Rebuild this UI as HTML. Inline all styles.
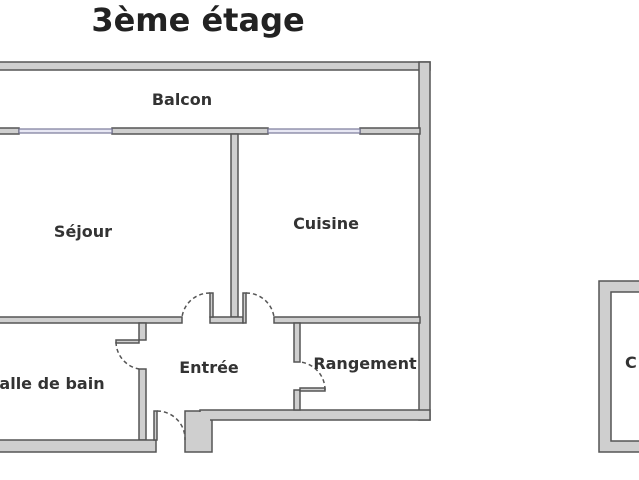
<!DOCTYPE html>
<html><head><style>
body{margin:0;background:#fff;}
svg{display:block;}
text{font-family:"DejaVu Sans","Liberation Sans",sans-serif;fill:#333;}
</style></head><body>
<svg width="639" height="480" viewBox="0 0 639 480" xmlns="http://www.w3.org/2000/svg">
<text x="198" y="31" font-size="32" font-weight="bold" text-anchor="middle" style="fill:#222">3ème étage</text>
<g fill="#cfcfcf" stroke="#555" stroke-width="1.5">
<rect x="-5" y="62" width="435" height="8"/>
<rect x="419" y="62" width="11" height="358"/>
<rect x="-5" y="128" width="24" height="6"/>
<rect x="112" y="128" width="156" height="6"/>
<rect x="360" y="128" width="60" height="6"/>
<rect x="231" y="134" width="7" height="183"/>
<rect x="-5" y="317" width="187" height="6"/>
<rect x="210" y="317" width="33" height="6"/>
<rect x="274" y="317" width="146" height="6"/>
<rect x="210" y="293" width="3" height="24"/>
<rect x="243" y="293" width="3" height="30"/>
<rect x="139" y="323" width="7" height="17"/>
<rect x="139" y="369" width="7" height="71"/>
<rect x="116" y="340" width="23" height="3"/>
<rect x="-5" y="440" width="161" height="12"/>
<rect x="154" y="411" width="3" height="29"/>
<rect x="185" y="411" width="27" height="41"/>
<rect x="200" y="410" width="230" height="10"/>
<rect x="294" y="323" width="6" height="39"/>
<rect x="294" y="390" width="6" height="20"/>
<rect x="300" y="388" width="25" height="3"/>
<rect x="599" y="281" width="50" height="171"/>
</g>
<rect x="611" y="292" width="40" height="149" fill="#fff" stroke="#555" stroke-width="1.5"/>
<rect x="186" y="412" width="24" height="38" fill="#cfcfcf"/>
<g stroke="#7a7a9a" stroke-width="1.2" fill="#e8e8f4">
<rect x="19" y="129" width="93" height="4"/>
<rect x="268" y="129" width="92" height="4"/>
</g>
<g fill="none" stroke="#555" stroke-width="1.5" stroke-dasharray="4 3">
<path d="M210 293 A28 28 0 0 0 182 317"/>
<path d="M246 293 A28 28 0 0 1 274 317"/>
<path d="M116 342 A28 28 0 0 0 139 369"/>
<path d="M157 411 A28 28 0 0 1 185 440"/>
<path d="M325 390 A28 28 0 0 0 300 362"/>
</g>
<g font-size="16" font-weight="bold">
<text x="182" y="105" text-anchor="middle">Balcon</text>
<text x="83" y="237" text-anchor="middle">Séjour</text>
<text x="326" y="229" text-anchor="middle">Cuisine</text>
<text x="209" y="373" text-anchor="middle">Entrée</text>
<text x="365" y="369" text-anchor="middle">Rangement</text>
<text x="52" y="389" text-anchor="middle">alle de bain</text>
<text x="625" y="368">C</text>
</g>
</svg>
</body></html>
